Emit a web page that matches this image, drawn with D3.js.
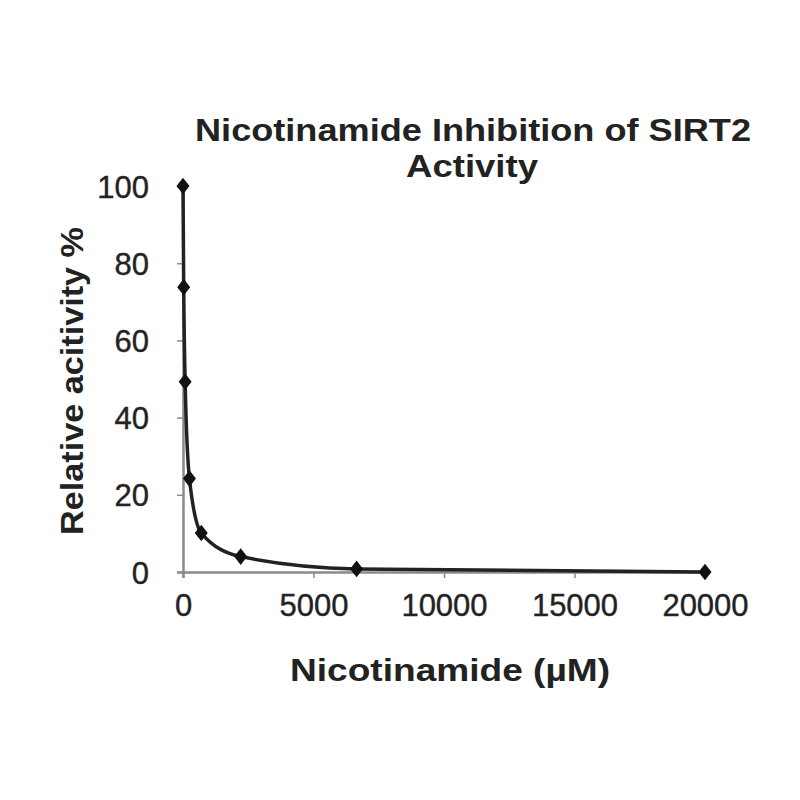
<!DOCTYPE html>
<html>
<head>
<meta charset="utf-8">
<script src="https://cdn.jsdelivr.net/npm/d3@7"></script>
<style>
  body { margin: 0; background: #fff; }
  text { font-family: "Liberation Sans", Arial, sans-serif; fill: #222; }
</style>
</head>
<body>
<div id="chart"></div>
<script>
// nicotinamide concentration (uM) and relative SIRT2 activity (%)
const concentration = [0, 27, 82, 247, 700, 2210, 6650, 20000];
const activity = [100, 73.8, 49.3, 24.2, 10.1, 4, 0.8, 0];
const xTicks = [0, 5000, 10000, 15000, 20000];
const yTicks = [0, 20, 40, 60, 80, 100];

const width = 800, height = 800;
const svg = d3.select("#chart")
	.append("svg")
	.attr("width", width)
	.attr("height", height);

const x = d3.scaleLinear().domain([0, 20000]).range([183, 705]);
const y = d3.scaleLinear().domain([0, 100]).range([572, 186]);

const points = concentration.map(function(c, i) {
	return { c: c, a: activity[i] };
});

// axes
const xAxis = svg.append("g")
	.attr("transform", "translate(0," + y(0) + ")")
	.call(d3.axisBottom(x).tickValues(xTicks).tickSize(6).tickPadding(10).tickFormat(d3.format("d")));
const yAxis = svg.append("g")
	.attr("transform", "translate(" + x(0) + ",0)")
	.call(d3.axisLeft(y).tickValues(yTicks).tickSize(6).tickPadding(28));

[xAxis, yAxis].forEach(function(ax) {
	ax.select(".domain").attr("stroke", "#8a8a8a").attr("stroke-width", 2.5);
	ax.selectAll(".tick line").attr("stroke", "#8a8a8a").attr("stroke-width", 1.5);
	ax.selectAll(".tick text")
		.style("font-family", "'Liberation Sans', Arial, sans-serif")
		.style("font-size", "31px")
		.attr("fill", "#2a2a2a")
		.attr("stroke", "#2a2a2a")
		.attr("stroke-width", 0.4);
});
yAxis.selectAll(".tick text").attr("dy", "0.36em");
xAxis.selectAll(".tick text").attr("dy", "0.9em");

// curve
const line = d3.line()
	.x(function(d) { return x(d.c); })
	.y(function(d) { return y(d.a); })
	.curve(d3.curveMonotoneX);

svg.append("path")
	.datum(points)
	.attr("d", line)
	.attr("fill", "none")
	.attr("stroke", "#222")
	.attr("stroke-width", 3.5);

svg.selectAll("path.marker")
	.data(points)
	.enter()
	.append("path")
	.attr("class", "marker")
	.attr("d", d3.symbol().type(d3.symbolDiamond).size(80))
	.attr("transform", function(d) { return "translate(" + x(d.c) + "," + y(d.a) + ") scale(1.35,1)"; })
	.attr("fill", "#111");

// titles
svg.append("text")
	.attr("x", 473).attr("y", 141)
	.attr("text-anchor", "middle")
	.attr("textLength", 556).attr("lengthAdjust", "spacingAndGlyphs")
	.style("font-size", "32px").style("font-weight", "bold")
	.text("Nicotinamide Inhibition of SIRT2");
svg.append("text")
	.attr("x", 472).attr("y", 177)
	.attr("text-anchor", "middle")
	.attr("textLength", 132).attr("lengthAdjust", "spacingAndGlyphs")
	.style("font-size", "32px").style("font-weight", "bold")
	.text("Activity");

svg.append("text")
	.attr("x", 450).attr("y", 681)
	.attr("text-anchor", "middle")
	.attr("textLength", 320).attr("lengthAdjust", "spacingAndGlyphs")
	.style("font-size", "32px").style("font-weight", "bold")
	.text("Nicotinamide (µM)");

svg.append("text")
	.attr("transform", "translate(83,381) rotate(-90)")
	.attr("text-anchor", "middle")
	.attr("textLength", 308).attr("lengthAdjust", "spacingAndGlyphs")
	.style("font-size", "32px").style("font-weight", "bold")
	.text("Relative acitivity %");
</script>
</body>
</html>
